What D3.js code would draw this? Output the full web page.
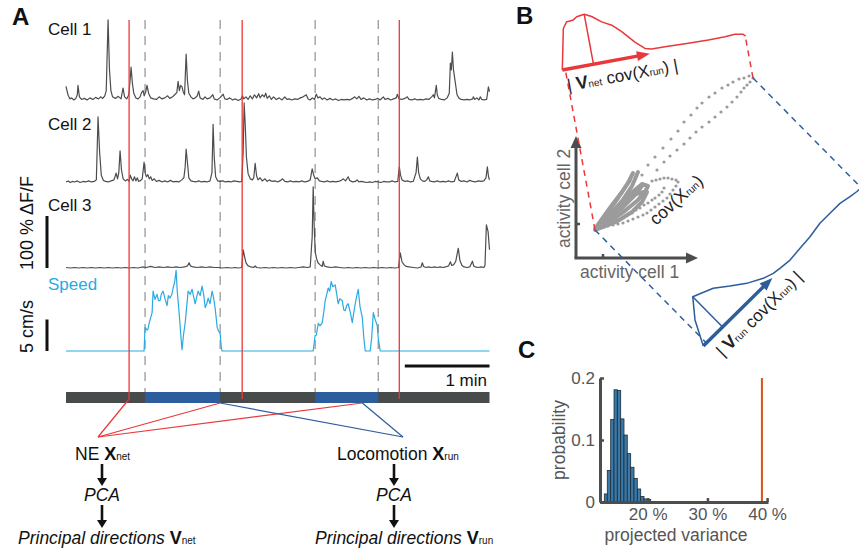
<!DOCTYPE html>
<html>
<head>
<meta charset="utf-8">
<title>NE vs locomotion subspaces</title>
<script src="https://d3js.org/d3.v7.min.js"></script>
<style>
  body { margin: 0; background: #fff; }
  svg { font-family: "Liberation Sans", Arial, sans-serif; }
</style>
</head>
<body>
<div id="fig"></div>
<script>
// ---------- data (time in s, dF/F in %, speed in cm/s) ----------
var cell1 = [[0,28],[1.4,12],[2.8,4],[4,6],[5.5,2],[7,5],[8,12],[8.5,30],[9.5,8],[11,3],[13,5],[15,2],[17,6],[19,3],[21,7],[23,4],[24.5,8],[26,5],[27.5,10],[28.5,20],[29.8,156],[30.8,60],[31.8,20],[33,8],[35,5],[37,9],[39,4],[40.4,25],[41.5,8],[43,4],[44.5,12],[45.4,40],[46.1,65],[47,35],[48,15],[49.5,6],[51,4],[52.5,8],[53.5,16],[54.6,20],[55.4,10],[56.5,18],[57.4,30],[58.5,15],[60,6],[62,4],[64,3],[66,8],[68,4],[70,6],[72,10],[73.5,5],[75.5,8],[77,12],[78.5,16],[79.4,38],[80.3,20],[81.2,30],[82.2,27],[83,18],[84,12],[85.1,90],[86,40],[87,15],[88.5,8],[90,4],[91.5,6],[93,10],[94,19],[95,6],[97,3],[98.5,8],[100,4],[102,6],[104,12],[105,4],[107,2],[109,6],[111.3,13],[112.5,4],[114,3],[116,6],[118,2],[120,4],[122,1],[124,4],[125,10],[126,4],[127.5,8],[129,3],[130.5,10],[132,4],[133.5,12],[135,6],[136.5,14],[137.5,6],[139,12],[140.5,8],[141.5,15],[142.5,5],[144,10],[145.5,3],[147,8],[149,3],[151,6],[153,2],[155,8],[156.5,3],[158,4],[160,2],[162,4],[164,3],[166,6],[168,8],[170.2,12],[171.5,4],[173,2],[174.5,6],[176,3],[177.3,13],[178.5,6],[180,8],[181.5,3],[183,6],[185,2],[187,5],[189,2],[191,4],[193,1],[195,3],[197,2],[199,3],[201,2],[203,5],[204.5,8],[206,4],[207.5,9],[209,3],[211,6],[213,2],[215,4],[217,2],[219,3],[221,5],[222.5,2],[224.8,8],[226,3],[228,5],[230,2],[232,4],[234,6],[234.7,13],[236,4],[238,3],[240,5],[241.8,8],[243,3],[245,2],[247,4],[249,2],[251,3],[253,2],[255,4],[257,3],[259,8],[260.2,12],[261,6],[262.3,30],[263,12],[264,5],[266,3],[268,2],[270,6],[271.5,15],[272.3,73],[273,60],[273.7,94],[274.5,60],[275.8,35],[277,12],[278.5,5],[280,3],[282,2],[284,3],[286,2],[288,4],[288.6,8],[289.5,3],[291,6],[292.5,2],[293.5,8],[294.5,3],[296,2],[298,3],[299.2,27],[300,18]];

var cell2 = [[0,2],[1.5,4],[3,1],[4.5,3],[6,2],[8,4],[10,1],[12,3],[14,2],[16,4],[18,2],[20,3],[21.5,6],[22.7,127],[23.8,60],[25,15],[26.5,5],[28,3],[30,2],[32,4],[34,6],[35.5,19],[36.5,8],[37.4,20],[38.3,62],[39.3,25],[40.5,8],[42,4],[43.5,7],[44.7,3],[45.5,15],[46.5,8],[47.5,4],[48.5,12],[49.5,4],[50.5,10],[51.5,3],[53,5],[54,8],[55.3,40],[56.2,18],[57,12],[58,16],[59,8],[60,12],[61,5],[62.5,8],[64,3],[66,5],[68,2],[70,4],[72,2],[74,5],[76,2],[78,3],[80,2],[82,6],[83.5,10],[84.4,30],[85.1,65],[86,40],[87,10],[88.5,4],[90,3],[92,2],[94,4],[96,2],[98,3],[100,2],[102,4],[103.4,20],[104.2,113],[105,50],[106,12],[107.5,4],[109,3],[111,4],[113,2],[115,3],[117,2],[119,4],[121,3],[123,2],[124.5,3],[125.5,60],[126.2,154],[127,110],[127.8,50],[129,18],[130.5,8],[132,6],[133,10],[134,38],[135,14],[136,6],[137.5,10],[139,4],[141,8],[142.5,3],[144,6],[146,3],[148,4],[150,2],[152,5],[153.5,8],[155,3],[157,2],[159,4],[161,2],[163,3],[165,2],[167,4],[169,2],[171,3],[173,6],[174.4,27],[175.5,15],[176.5,8],[178,10],[179.5,4],[181,3],[183,2],[185,4],[187,2],[189,3],[191,2],[193,3],[195,5],[196.4,8],[198,4],[199.9,12],[201,5],[203,2],[205,3],[206.3,6],[207.5,2],[209,3],[211,2],[213,1],[215,2],[217,1],[219,3],[221,2],[223,1],[225,3],[227,2],[229,2],[231,4],[233,2],[235,3],[236.1,31],[237,15],[238,6],[240,3],[242,4],[244,2],[246,3],[248,20],[248.9,50],[249.8,20],[251,8],[252.5,4],[254,3],[255.5,6],[256.7,12],[257.6,4],[259,3],[261,2],[263,4],[265,2],[267,3],[269,2],[271,4],[273,2],[275,3],[277.2,19],[278.2,6],[280,3],[282,4],[284,2],[286,5],[288,3],[290,2],[292,4],[294,3],[296,4],[297.5,10],[298.5,31],[299.3,12],[300,6]];

var cell3 = [[0,1],[3,0],[6,1],[9,0],[12,1],[15,0],[18,1],[21,0],[24,1],[27,0],[30,1],[33,0],[36,1],[39,0],[42,1],[45,0],[48,1],[51,0],[54,2],[57,1],[60,3],[63,1],[66,2],[69,1],[72,2],[75,1],[78,2],[81,1],[84,2],[86,4],[87.2,10],[88.2,4],[90,2],[93,1],[96,2],[99,1],[102,2],[105,1],[108,1],[111,0],[114,1],[117,0],[120,1],[122,0],[124.5,1],[125.5,35],[126.5,22],[127.5,10],[129,4],[131,2],[133,1],[134,4],[135,1],[138,0],[141,1],[144,0],[147,1],[150,0],[153,1],[156,0],[159,1],[162,0],[165,1],[168,2],[171,1],[173,2],[174.4,60],[175.1,156],[175.8,80],[176.6,30],[177.5,18],[178.5,10],[180,6],[181.5,3],[182.2,13],[183,4],[185,2],[188,1],[191,2],[194,1],[197,0],[200,1],[203,0],[206,1],[209,0],[212,1],[215,0],[218,1],[221,0],[224,1],[227,0],[230,1],[233,0],[235.5,1],[236.8,29],[238,12],[239.5,6],[241,3],[243,2],[246,1],[249,0],[251.5,2],[252.4,10],[253.3,3],[255,1],[257,2],[259,1],[261,2],[263,1],[265,2],[267,1],[269,2],[271,4],[272.3,12],[273.2,5],[274.5,6],[276,12],[277.9,38],[279,15],[280.5,5],[282,2],[284,1],[286,2],[287.9,13],[288.8,4],[290,2],[292,1],[294,2],[296,1],[296.8,5],[297.8,83],[299,70],[300,35]];

var speed = [[0,0],[55.3,0],[56,3.75],[57.4,3.3],[58.1,3.5],[59,4.5],[61,6.1],[61.7,9.5],[63,8.2],[64.5,9.0],[65.5,8.0],[66.6,8.0],[67.5,9],[68.8,9.5],[70,8.4],[71.6,7.2],[72.5,8.8],[73.7,8.4],[75,9],[75.9,10.0],[77,11],[78,12.8],[78.8,9.5],[79.4,8.0],[80.5,5],[81.5,2],[82.2,0.2],[83.2,2.5],[84.4,4.4],[85.5,7],[86.5,9.5],[88,9],[89.3,9.8],[90.5,8.5],[91.5,7.5],[92.5,8.5],[93.6,9.5],[95,8.8],[96.4,10.3],[97.5,9],[98.6,6.9],[99.7,7.5],[100.7,8.4],[102,7.5],[103.5,9.5],[104.5,8.5],[105.6,6.9],[106.5,5],[107.1,3.75],[108,3.2],[109.2,2.8],[110,0.5],[110.6,0],[175.1,0],[176.5,2.5],[177.3,2.5],[178.7,4.4],[180,4.0],[181.5,4.5],[182.5,6],[183.6,8.0],[184.7,9],[185.8,10.0],[186.8,9.5],[187.9,11.0],[189,10.2],[190.7,10.5],[191.8,9],[192.8,7.5],[194,8.3],[195.7,8.0],[196.8,6.5],[197.8,6.4],[198.8,7.2],[199.9,7.5],[201.5,6],[202.8,4.5],[203.8,6],[204.9,7.5],[206,8.8],[207,9.8],[208.3,7],[209.9,5.3],[211,2],[212,0],[215.5,0],[216.5,2],[217.7,6.1],[219,5],[220.5,4.0],[221.2,2],[222.6,0],[300,0]];

var runStarts = [56, 176.5];
var runEnds = [109.2, 221.2];
var neOnsets = [44.7, 124.8, 236.1];
var neFanTimes = [44.7, 109.2, 209.9];
var runFanTimes = [109.2, 209.9];

// panel B: activity of cell 1 / cell 2 (a.u.)
var blobTracks = [
  [[19,28],[30,43],[42,60],[52,75],[57,85]],
  [[20,28],[33,42],[46,57],[56,72],[62,86]],
  [[20,29],[36,38],[50,48],[62,58],[70,68],[72,72],[66,74],[54,64],[40,50],[28,38]],
  [[22,29],[40,36],[56,46],[66,56],[71,66]],
  [[21,30],[32,38],[46,50],[58,62],[66,72]],
  [[20,29],[28,36],[38,46],[48,56],[60,64],[68,66]],
  [[19,29],[26,39],[36,53],[46,66],[54,78]]
];
var dotsA = [[66,83],[72,93],[79,101],[87,110],[95,119],[102,127],[108,136],[115,143],[121,150],[126,155],[133,161],[139,165],[146,170],[152,173],[157,176],[163,179],[168,180],[173,182]];
var dotsB = [[81,88],[88,96],[94,102],[101,108],[108,114],[114,120],[120,126],[126,131],[133,136],[139,141],[145,146],[151,151],[156,156],[161,161],[165,166],[168,170],[171,173],[174,176],[177,180]];
var loopOuter = [[24,30],[28,31],[32,32],[37,33],[42,34],[47,35],[52,37],[57,39],[62,41],[67,43],[71,45],[75,48],[79,51],[83,54],[87,57],[91,60],[94,64],[97,68],[100,72],[102,76],[100,78],[96,79],[92,80],[88,80],[84,79],[80,78],[76,77]];
var loopInner = [[36,36],[41,38],[46,40],[51,43],[56,45],[60,48],[64,50],[68,53],[72,55],[76,58],[79,60],[83,63],[86,66],[88,70]];

var redDensity = [[0,0],[8.6,0.80],[13.1,0.92],[16.5,0.92],[19.9,0.93],[23.9,0.98],[31.7,1.0],[38.6,0.93],[47.5,0.79],[56.8,0.69],[65.4,0.53],[76.5,0.28],[85.2,0.12],[91.7,0.087],[105.2,0.083],[128.8,0.065],[149,0.057],[166,0.061],[176.3,0.073],[184.4,0.041],[186.4,0]];
var blueDensity = [[0,0],[12.4,0.48],[27.1,0.837],[47.6,0.671],[61.1,0.472],[74.9,0.278],[90.2,0.12],[100.8,0.051],[109.1,0.03],[122.1,0.006],[137.5,0.033],[152.7,0.057],[169.2,0.108],[183.4,0.11],[197.5,0.11],[209.3,0.065],[217.5,0.043],[224,0.03]];

// panel C: histogram of projected variance (%)
var histEdges = [12.72,13.22,13.79,14.35,14.9,15.47,16.02,16.57,17.14,17.7,18.25,18.82,19.37,19.92,20.49];
var histProb = [0.013,0.051,0.133,0.181,0.180,0.134,0.108,0.078,0.056,0.038,0.021,0.009,0.005,0.004];
var observedVar = 39.13;
var yTicksC = [0, 0.1, 0.2];
var xTicksC = [20, 30, 40];

// ---------- drawing ----------
var svg = d3.select("#fig").append("svg").attr("width", 859).attr("height", 554);
var red = "#e9383b", blue = "#2c5d9c", traceCol = "#4d4d4d", cyan = "#29aae2", axCol = "#4d4d4d";

function label(x, y, txt, size, opts) {
  opts = opts || {};
  return svg.append("text").attr("x", x).attr("y", y).text(txt)
    .attr("font-size", size).attr("font-weight", opts.bold ? "bold" : null)
    .attr("fill", opts.fill || "#111").attr("text-anchor", opts.anchor || "start");
}

// ===== Panel A =====
label(12, 25, "A", 24, {bold: true});
var xT = d3.scaleLinear().domain([0, 300]).range([66, 489.5]);
var barY = 392, barH = 11;

// timeline bar
svg.append("rect").attr("x", xT(0)).attr("y", barY).attr("width", xT(300) - xT(0)).attr("height", barH).attr("fill", "#474b4b");
svg.selectAll("rect.run").data(runStarts).enter().append("rect").attr("class", "run")
  .attr("x", function(d) { return xT(d); }).attr("y", barY)
  .attr("width", function(d, i) { return xT(runEnds[i]) - xT(d); }).attr("height", barH).attr("fill", blue);

// dashed run borders
svg.selectAll("line.dash").data(runStarts.concat(runEnds)).enter().append("line")
  .attr("x1", function(d) { return xT(d); }).attr("x2", function(d) { return xT(d); })
  .attr("y1", 20).attr("y2", barY)
  .attr("stroke", "#9a9a9a").attr("stroke-width", 1.3).attr("stroke-dasharray", "9,7");

// fan lines to labels
var neAnchor = [98, 437], runAnchor = [403, 437];
neFanTimes.forEach(function(t, i) {
  var y0 = i === 0 ? 399 : barY + barH;
  svg.append("line").attr("x1", xT(t)).attr("y1", y0).attr("x2", neAnchor[0]).attr("y2", neAnchor[1])
    .attr("stroke", red).attr("stroke-width", 1.2);
});
runFanTimes.forEach(function(t) {
  svg.append("line").attr("x1", xT(t)).attr("y1", barY + barH).attr("x2", runAnchor[0]).attr("y2", runAnchor[1])
    .attr("stroke", blue).attr("stroke-width", 1.2);
});

// traces
var cells = [
  {name: "Cell 1", data: cell1, base: 101, labelY: 35},
  {name: "Cell 2", data: cell2, base: 183, labelY: 130},
  {name: "Cell 3", data: cell3, base: 268, labelY: 211}
];
cells.forEach(function(c) {
  c.y = d3.scaleLinear().domain([0, 100]).range([c.base, c.base - 52]);
  var line = d3.line().x(function(d) { return xT(d[0]); }).y(function(d) { return c.y(d[1]); });
  svg.append("path").attr("d", line(c.data)).attr("fill", "none")
    .attr("stroke", traceCol).attr("stroke-width", 1.2).attr("stroke-linejoin", "round");
  label(48, c.labelY, c.name, 17);
});
var ySp = d3.scaleLinear().domain([0, 5]).range([351, 319.5]);
svg.append("path").attr("d", d3.line().x(function(d) { return xT(d[0]); }).y(function(d) { return ySp(d[1]); })(speed))
  .attr("fill", "none").attr("stroke", cyan).attr("stroke-width", 1.2).attr("stroke-linejoin", "round");
label(48, 290, "Speed", 17, {fill: cyan});

// NE onset lines
svg.selectAll("line.ne").data(neOnsets).enter().append("line")
  .attr("x1", function(d) { return xT(d); }).attr("x2", function(d) { return xT(d); })
  .attr("y1", 20).attr("y2", 399).attr("stroke", red).attr("stroke-width", 1.3);

// scale bars
var y3 = cells[2].y;
svg.append("rect").attr("x", 45.5).attr("y", y3(100)).attr("width", 3).attr("height", y3(0) - y3(100)).attr("fill", "#111");
svg.append("rect").attr("x", 45.5).attr("y", ySp(5)).attr("width", 3).attr("height", ySp(0) - ySp(5)).attr("fill", "#111");
svg.append("text").attr("transform", "translate(33,270) rotate(-90)").text("100 % \u0394F/F").attr("font-size", 18).attr("fill", "#111");
svg.append("text").attr("transform", "translate(33,353) rotate(-90)").text("5 cm/s").attr("font-size", 18).attr("fill", "#111");
svg.append("rect").attr("x", xT(240)).attr("y", 364.5).attr("width", xT(300) - xT(240)).attr("height", 3).attr("fill", "#111");
label(487, 386, "1 min", 17, {anchor: "end"});

// flow labels
function subLabel(x, y, pre, bold, sub, italic) {
  var t = svg.append("text").attr("x", x).attr("y", y).attr("font-size", 17.5).attr("fill", "#111");
  t.append("tspan").text(pre).attr("font-style", italic ? "italic" : null);
  t.append("tspan").text(bold).attr("font-weight", "bold").attr("font-size", 18);
  t.append("tspan").text(sub).attr("font-size", 10);
}
function downArrow(x, y0, y1) {
  svg.append("line").attr("x1", x).attr("x2", x).attr("y1", y0).attr("y2", y1 - 7).attr("stroke", "#111").attr("stroke-width", 2.6);
  svg.append("path").attr("d", "M" + (x - 5) + "," + (y1 - 8) + "L" + (x + 5) + "," + (y1 - 8) + "L" + x + "," + y1 + "Z").attr("fill", "#111");
}
subLabel(75, 460, "NE ", "X", "net", false);
subLabel(337, 460, "Locomotion ", "X", "run", false);
[102, 394].forEach(function(x) {
  downArrow(x, 464, 486);
  svg.append("text").attr("x", x).attr("y", 501).attr("text-anchor", "middle").attr("font-size", 17.5)
    .attr("font-style", "italic").attr("fill", "#111").text("PCA");
  downArrow(x, 505, 528);
});
subLabel(18, 544, "Principal directions ", "V", "net", true);
subLabel(315, 544, "Principal directions ", "V", "run", true);

// ===== Panel B =====
label(516, 24, "B", 24, {bold: true});
var xA = d3.scaleLinear().domain([0, 120]).range([576, 696]);
var yA = d3.scaleLinear().domain([0, 120]).range([258, 138]);
var lineA = d3.line().x(function(d) { return xA(d[0]); }).y(function(d) { return yA(d[1]); });
var dotCol = "#9b9b9b";

blobTracks.forEach(function(tr) {
  svg.append("path").attr("d", lineA(tr)).attr("fill", "none").attr("stroke", dotCol)
    .attr("stroke-width", 4).attr("stroke-linejoin", "round").attr("stroke-linecap", "round");
});
var allDots = dotsA.concat(dotsB, loopOuter, loopInner);
svg.selectAll("circle.dot").data(allDots).enter().append("circle").attr("class", "dot")
  .attr("cx", function(d) { return xA(d[0]); }).attr("cy", function(d) { return yA(d[1]); })
  .attr("r", 1.6).attr("fill", dotCol);

// activity axes
svg.append("line").attr("x1", xA(0)).attr("y1", yA(0)).attr("x2", xA(0)).attr("y2", 146).attr("stroke", axCol).attr("stroke-width", 3);
svg.append("line").attr("x1", xA(0) - 1.5).attr("y1", yA(0)).attr("x2", 688).attr("y2", yA(0)).attr("stroke", axCol).attr("stroke-width", 3);
svg.append("path").attr("d", "M" + (xA(0) - 5.5) + ",148L" + (xA(0) + 5.5) + ",148L" + xA(0) + ",136Z").attr("fill", axCol);
svg.append("path").attr("d", "M686," + (yA(0) - 5.5) + "L686," + (yA(0) + 5.5) + "L698," + yA(0) + "Z").attr("fill", axCol);
svg.append("line").attr("x1", xA(27)).attr("x2", xA(27)).attr("y1", yA(0)).attr("y2", yA(0) - 4).attr("stroke", axCol).attr("stroke-width", 2.5);
svg.append("line").attr("x1", xA(0)).attr("x2", xA(0) + 4).attr("y1", yA(34)).attr("y2", yA(34)).attr("stroke", axCol).attr("stroke-width", 2.5);
label(580, 278, "activity cell 1", 17.5, {fill: "#666"});
svg.append("text").attr("transform", "translate(570,248) rotate(-90)").text("activity cell 2").attr("font-size", 17.5).attr("fill", "#666");

var cov = svg.append("text").attr("transform", "translate(656,226) rotate(-42)").attr("font-size", 17.5).attr("fill", "#222");
cov.append("tspan").text("cov(X");
cov.append("tspan").text("run").attr("font-size", 10);
cov.append("tspan").text(")");

// projections onto principal directions
var posS = d3.scaleLinear().domain([0, 100]).range([0, 100]);
var densS = d3.scaleLinear().domain([0, 1]).range([0, 50.8]);
var scr = allDots.concat(d3.merge(blobTracks)).map(function(d) { return [xA(d[0]), yA(d[1])]; });

function projection(origin, angle, dens, col, arrowLen, sub, textX) {
  var a = angle * Math.PI / 180, u = [Math.cos(a), Math.sin(a)];
  function along(p) { return (p[0] - origin[0]) * u[0] + (p[1] - origin[1]) * u[1]; }
  return {u: u, along: along, draw: function(ext) {
    ext.forEach(function(p) {
      var s = along(p);
      svg.append("line").attr("x1", p[0]).attr("y1", p[1])
        .attr("x2", origin[0] + s * u[0]).attr("y2", origin[1] + s * u[1])
        .attr("stroke", col).attr("stroke-width", 1.5).attr("stroke-dasharray", "6,5");
    });
    var g = svg.append("g").attr("transform", "translate(" + origin[0] + "," + origin[1] + ") rotate(" + angle + ")");
    g.append("path").attr("d", d3.line().x(function(d) { return posS(d[0]); }).y(function(d) { return -densS(d[1]); })(dens))
      .attr("fill", "none").attr("stroke", col).attr("stroke-width", 1.5).attr("stroke-linejoin", "round");
    var pk = dens.reduce(function(m, d) { return d[1] > m[1] ? d : m; });
    g.append("line").attr("x1", posS(pk[0])).attr("x2", posS(pk[0])).attr("y1", 0).attr("y2", -densS(pk[1]))
      .attr("stroke", col).attr("stroke-width", 1.5);
    g.append("line").attr("x1", 0).attr("x2", posS(arrowLen) - 10).attr("y1", 0).attr("y2", 0)
      .attr("stroke", col).attr("stroke-width", 3.5);
    g.append("path").attr("d", "M" + (posS(arrowLen) - 13) + ",-5L" + posS(arrowLen) + ",0L" + (posS(arrowLen) - 13) + ",5Z").attr("fill", col);
    var t = g.append("text").attr("x", textX).attr("y", 22).attr("font-size", 17).attr("fill", "#222");
    t.append("tspan").text("| ");
    t.append("tspan").text("V").attr("font-weight", "bold").attr("font-size", 18);
    t.append("tspan").text(sub).attr("font-size", 10);
    t.append("tspan").text(" cov(X");
    t.append("tspan").text("run").attr("font-size", 10);
    t.append("tspan").text(") |");
  }};
}
var projR = projection([562.3, 70], -10.5, redDensity, red, 89, "net", 2);
var projB = projection([703.3, 346], -44.6, blueDensity, blue, 97, "run", 6);
var ordered = scr.slice().sort(function(p, q) { return projR.along(p) - projR.along(q); });
var ext = [ordered[0], ordered[ordered.length - 1]];
projR.draw(ext);
projB.draw(ext);

// ===== Panel C =====
label(518, 358, "C", 24, {bold: true});
var xH = d3.scaleLinear().domain([12, 40.15]).range([600, 768]);
var yH = d3.scaleLinear().domain([0, 0.2]).range([502, 378]);
svg.selectAll("rect.bin").data(histProb).enter().append("rect").attr("class", "bin")
  .attr("x", function(d, i) { return xH(histEdges[i]); })
  .attr("width", function(d, i) { return xH(histEdges[i + 1]) - xH(histEdges[i]); })
  .attr("y", function(d) { return yH(d); }).attr("height", function(d) { return yH(0) - yH(d); })
  .attr("fill", "#3a7aab").attr("stroke", "#1e2a33").attr("stroke-width", 0.8);
svg.append("line").attr("x1", xH(observedVar)).attr("x2", xH(observedVar)).attr("y1", yH(0.2)).attr("y2", yH(0))
  .attr("stroke", "#d95319").attr("stroke-width", 2);

var gy = svg.append("g").attr("transform", "translate(600,0)")
  .call(d3.axisLeft(yH).tickValues(yTicksC).tickFormat(d3.format("")).tickSizeInner(-4).tickSizeOuter(0).tickPadding(5));
var gx = svg.append("g").attr("transform", "translate(0,502)")
  .call(d3.axisBottom(xH).tickValues(xTicksC).tickFormat(function(d) { return d + " %"; }).tickSizeInner(-4).tickSizeOuter(0).tickPadding(6));
[gx, gy].forEach(function(g) {
  g.select(".domain").attr("stroke", axCol).attr("stroke-width", 3);
  g.selectAll(".tick line").attr("stroke", axCol).attr("stroke-width", 2.5);
  g.selectAll(".tick text").attr("font-size", 17).attr("fill", "#555").attr("font-family", "Liberation Sans, Arial, sans-serif");
});
svg.append("text").attr("transform", "translate(565,440) rotate(-90)").attr("text-anchor", "middle")
  .text("probability").attr("font-size", 17.5).attr("fill", "#555");
label(676, 541, "projected variance", 17.5, {fill: "#555", anchor: "middle"});
</script>
</body>
</html>
